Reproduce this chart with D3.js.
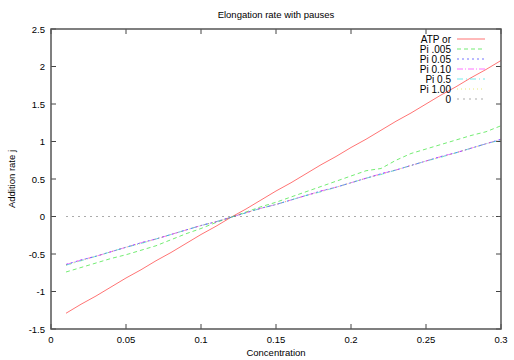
<!DOCTYPE html>
<html>
<head>
<meta charset="utf-8">
<script src="https://cdn.jsdelivr.net/npm/d3@7"></script>
<style>
  body { margin: 0; background: #fff; }
  text { font-family: "Liberation Sans", Arial, sans-serif; fill: #000; }
</style>
</head>
<body>
<script>
var conc = [0.01, 0.02, 0.03, 0.04, 0.05, 0.06, 0.07, 0.08, 0.09, 0.10,
            0.11, 0.12, 0.13, 0.14, 0.15, 0.16, 0.17, 0.18, 0.19, 0.20,
            0.21, 0.22, 0.23, 0.24, 0.25, 0.26, 0.27, 0.28, 0.29, 0.30];

var atpOr = [-1.29, -1.17, -1.06, -0.94, -0.82, -0.71, -0.59, -0.48, -0.36, -0.24,
             -0.13, -0.01, 0.10, 0.22, 0.34, 0.45, 0.57, 0.69, 0.80, 0.92,
             1.03, 1.15, 1.27, 1.38, 1.50, 1.62, 1.73, 1.85, 1.96, 2.08];
var pi005 = [-0.74, -0.68, -0.62, -0.56, -0.51, -0.45, -0.39, -0.31, -0.23, -0.16,
             -0.08, -0.01, 0.06, 0.13, 0.19, 0.26, 0.33, 0.40, 0.47, 0.54,
             0.61, 0.64, 0.75, 0.84, 0.90, 0.96, 1.02, 1.08, 1.13, 1.21];
var pi05 = [-0.64, -0.58, -0.53, -0.47, -0.41, -0.35, -0.30, -0.24, -0.18, -0.12,
            -0.07, -0.01, 0.05, 0.11, 0.16, 0.22, 0.28, 0.34, 0.39, 0.45,
            0.51, 0.57, 0.62, 0.68, 0.74, 0.80, 0.85, 0.91, 0.97, 1.03];
var pi10 = [-0.64, -0.58, -0.53, -0.47, -0.41, -0.35, -0.30, -0.24, -0.18, -0.12,
            -0.07, -0.01, 0.05, 0.11, 0.16, 0.22, 0.28, 0.34, 0.39, 0.45,
            0.51, 0.57, 0.62, 0.68, 0.74, 0.80, 0.85, 0.91, 0.97, 1.03];
var pi5 = [-0.65, -0.59, -0.53, -0.47, -0.41, -0.36, -0.30, -0.24, -0.18, -0.12,
           -0.07, -0.01, 0.05, 0.11, 0.16, 0.22, 0.28, 0.33, 0.39, 0.45,
           0.51, 0.56, 0.62, 0.68, 0.74, 0.79, 0.85, 0.91, 0.97, 1.02];
var pi100 = [-0.65, -0.59, -0.53, -0.47, -0.41, -0.36, -0.30, -0.24, -0.18, -0.12,
             -0.07, -0.01, 0.05, 0.11, 0.16, 0.22, 0.28, 0.33, 0.39, 0.45,
             0.51, 0.56, 0.62, 0.68, 0.74, 0.79, 0.85, 0.91, 0.97, 1.02];
var zeroLine = [0, 0, 0, 0, 0, 0, 0, 0, 0, 0, 0, 0, 0, 0, 0,
                0, 0, 0, 0, 0, 0, 0, 0, 0, 0, 0, 0, 0, 0, 0];

var seriesNames = ['ATP or', 'Pi .005', 'Pi 0.05', 'Pi 0.10', ' Pi 0.5', 'Pi 1.00', '0'];
var seriesValues = [atpOr, pi005, pi05, pi10, pi5, pi100, zeroLine];
var seriesColors = ['#ff0000', '#00dd00', '#0000ff', '#ff00ff', '#00dddd', '#dddd00', '#666666'];
var seriesDash = [null, '4,3', '2,3', '6,2,1,2', '6,3,1,3', '1,3', '2,4'];

var xTicks = [0, 0.05, 0.1, 0.15, 0.2, 0.25, 0.3];
var yTicks = [-1.5, -1, -0.5, 0, 0.5, 1, 1.5, 2, 2.5];

var width = 514, height = 360;
var plotLeft = 51, plotRight = 501, plotTop = 29, plotBottom = 329;

var svg = d3.select('body').append('svg')
    .attr('width', width)
    .attr('height', height);

var x = d3.scaleLinear().domain([0, 0.3]).range([plotLeft, plotRight]);
var y = d3.scaleLinear().domain([-1.5, 2.5]).range([plotBottom, plotTop]);

// ticks, gnuplot style: inward on all four sides
var tickLen = 5;
var axes = svg.append('g').attr('stroke', '#444').attr('stroke-width', 1);
xTicks.forEach(function(t) {
  axes.append('line').attr('x1', x(t)).attr('x2', x(t)).attr('y1', plotBottom).attr('y2', plotBottom - tickLen);
  axes.append('line').attr('x1', x(t)).attr('x2', x(t)).attr('y1', plotTop).attr('y2', plotTop + tickLen);
});
yTicks.forEach(function(t) {
  axes.append('line').attr('x1', plotLeft).attr('x2', plotLeft + tickLen).attr('y1', y(t)).attr('y2', y(t));
  axes.append('line').attr('x1', plotRight).attr('x2', plotRight - tickLen).attr('y1', y(t)).attr('y2', y(t));
});

svg.selectAll('text.xt')
    .data(xTicks)
    .enter()
    .append('text')
    .attr('class', 'xt')
    .attr('x', function(d) { return x(d); })
    .attr('y', 343)
    .attr('text-anchor', 'middle')
    .attr('font-size', 9.5)
    .text(function(d) { return d; });

svg.selectAll('text.yt')
    .data(yTicks)
    .enter()
    .append('text')
    .attr('class', 'yt')
    .attr('x', 45)
    .attr('y', function(d) { return y(d) + 3.5; })
    .attr('text-anchor', 'end')
    .attr('font-size', 9.5)
    .text(function(d) { return d; });

// curves
var line = d3.line()
    .x(function(d) { return x(d[0]); })
    .y(function(d) { return y(d[1]); });

seriesValues.forEach(function(vals, i) {
  svg.append('path')
      .datum(d3.zip(conc, vals))
      .attr('fill', 'none')
      .attr('stroke', seriesColors[i])
      .attr('stroke-opacity', 0.55)
      .attr('stroke-width', 1)
      .attr('stroke-dasharray', seriesDash[i])
      .attr('d', line);
});

// frame
svg.append('rect')
    .attr('x', plotLeft)
    .attr('y', plotTop)
    .attr('width', plotRight - plotLeft)
    .attr('height', plotBottom - plotTop)
    .attr('fill', 'none')
    .attr('stroke', '#555')
    .attr('stroke-width', 1.5);

// legend
var legend = svg.append('g');
seriesNames.forEach(function(name, i) {
  var ly = 39 + i * 10;
  legend.append('text')
      .attr('x', 451)
      .attr('y', ly + 3.5)
      .attr('text-anchor', 'end')
      .attr('font-size', 10)
      .attr('xml:space', 'preserve')
      .text(name);
  legend.append('line')
      .attr('x1', 457).attr('x2', 485)
      .attr('y1', ly).attr('y2', ly)
      .attr('stroke', seriesColors[i])
      .attr('stroke-opacity', 0.55)
      .attr('stroke-dasharray', seriesDash[i]);
});

svg.append('text')
    .attr('x', 276)
    .attr('y', 18)
    .attr('text-anchor', 'middle')
    .attr('font-size', 9.5)
    .text('Elongation rate with pauses');

svg.append('text')
    .attr('x', 276)
    .attr('y', 356)
    .attr('text-anchor', 'middle')
    .attr('font-size', 9.5)
    .text('Concentration');

svg.append('text')
    .attr('transform', 'translate(15,179) rotate(-90)')
    .attr('text-anchor', 'middle')
    .attr('font-size', 9.5)
    .text('Addition rate j');
</script>
</body>
</html>
